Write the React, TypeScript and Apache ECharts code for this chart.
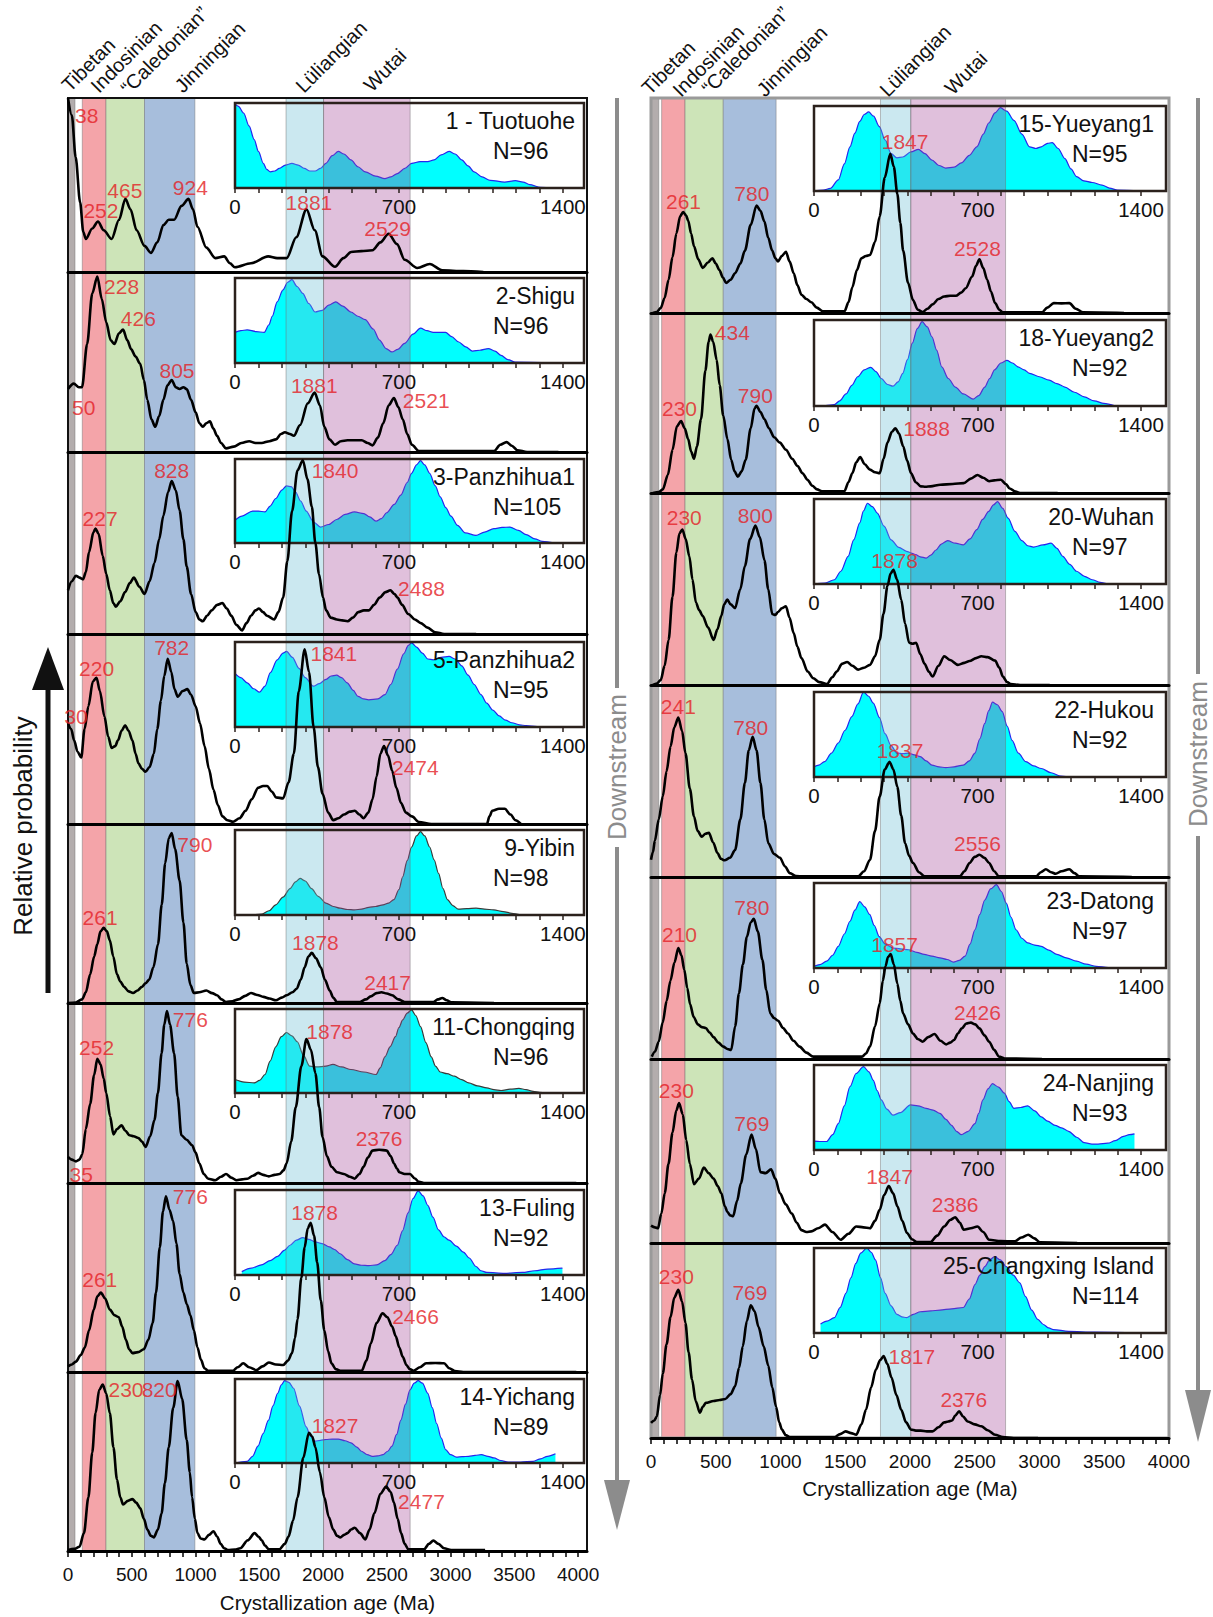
import React, { useEffect, useRef } from 'react';
import * as echarts from 'echarts';

// ---------------- tick labels ----------------
const MAIN_TICK_LABELS = [0, 500, 1000, 1500, 2000, 2500, 3000, 3500, 4000];
const MAIN_MINOR_TICKS = Array.from({ length: 41 }, (_, i) => i * 100);
const INSET_TICK_LABELS = [0, 700, 1400];
const INSET_MINOR_TICKS = Array.from({ length: 15 }, (_, i) => i * 100);
const HEADER_NAMES = ['Tibetan', 'Indosinian', '\u201CCaledonian\u201D', 'Jinningian', 'L\u00FCliangian', 'Wutai'];

// bands [startMa, endMa, kind]  kind: 0 gray,1 red,2 green,3 blue,4 lightblue,5 purple
const LEFT_BANDS = [[0, 55, 0], [112, 298, 1], [298, 600, 2], [600, 995, 3], [1710, 2004, 4], [2004, 2683, 5]];
const RIGHT_BANDS = [[0, 60, 0], [82, 263, 1], [263, 558, 2], [558, 966, 3], [1772, 2006, 4], [2006, 2738, 5]];

// ---------------- left column data ----------------
const P1_MAIN = [[0,1.0],[30,0.9],[60,0.66],[95,0.4],[120,0.23],[140,0.19],[190,0.25],[235,0.29],[280,0.24],[342,0.19],[400,0.3],[450,0.42],[490,0.36],[538,0.24],[600,0.15],[650,0.11],[700,0.17],[748,0.27],[790,0.3],[832,0.3],[890,0.38],[945,0.42],[980,0.36],[1015,0.26],[1085,0.14],[1155,0.08],[1225,0.09],[1270,0.05],[1309,0.027],[1435,0.05],[1570,0.09],[1640,0.08],[1715,0.08],[1790,0.2],[1870,0.36],[1935,0.24],[1996,0.09],[2094,0.03],[2160,0.08],[2220,0.115],[2300,0.12],[2388,0.125],[2450,0.17],[2514,0.22],[2580,0.16],[2640,0.07],[2739,0.023],[2837,0.046],[2935,0.01],[3100,0.005],[3257,0]];
const P1_INSET = [[0,0.99],[15,0.96],[37,0.88],[60,0.73],[82,0.57],[100,0.43],[121,0.29],[135,0.22],[151,0.19],[170,0.2],[189,0.23],[215,0.27],[243,0.29],[270,0.27],[296,0.23],[320,0.2],[342,0.2],[365,0.23],[388,0.29],[415,0.38],[441,0.43],[465,0.4],[495,0.33],[525,0.25],[556,0.19],[600,0.14],[640,0.11],[665,0.13],[693,0.17],[725,0.23],[754,0.29],[790,0.31],[823,0.31],[850,0.33],[880,0.39],[914,0.43],[940,0.4],[968,0.33],[995,0.26],[1021,0.19],[1055,0.13],[1090,0.09],[1151,0.07],[1197,0.087],[1230,0.07],[1258,0.04],[1304,0.008],[1365,0]];
const P1_PEAKS = [[146,0.9,'38'],[258,0.353,'252'],[446,0.47,'465'],[959,0.487,'924'],[1889,0.4,'1881'],[2506,0.25,'2529']];

const P2_MAIN = [[0,0.35],[45,0.38],[85,0.36],[110,0.36],[150,0.6],[190,0.88],[230,0.975],[265,0.85],[300,0.72],[335,0.62],[364,0.6],[400,0.66],[432,0.68],[465,0.62],[496,0.57],[530,0.53],[566,0.49],[595,0.4],[622,0.29],[655,0.18],[684,0.14],[715,0.2],[748,0.29],[780,0.37],[813,0.4],[845,0.36],[875,0.35],[905,0.36],[931,0.35],[965,0.29],[1001,0.22],[1030,0.16],[1057,0.14],[1085,0.16],[1113,0.17],[1140,0.13],[1169,0.09],[1200,0.05],[1239,0.02],[1300,0.03],[1360,0.05],[1421,0.06],[1470,0.05],[1519,0.05],[1580,0.06],[1631,0.07],[1670,0.1],[1701,0.11],[1740,0.1],[1771,0.09],[1820,0.15],[1880,0.27],[1934,0.33],[1975,0.26],[2010,0.14],[2050,0.07],[2094,0.04],[2140,0.06],[2192,0.065],[2250,0.065],[2304,0.065],[2350,0.05],[2388,0.037],[2430,0.08],[2472,0.16],[2515,0.26],[2556,0.3],[2590,0.25],[2626,0.18],[2660,0.1],[2697,0.04],[2752,0.005],[3341,0.005],[3390,0.04],[3439,0.055],[3480,0.035],[3523,0.01],[3600,0],[3846,0]];
const P2_INSET = [[0,0.36],[25,0.38],[52,0.39],[90,0.37],[125,0.36],[145,0.45],[159,0.55],[180,0.72],[205,0.86],[225,0.95],[243,0.98],[265,0.9],[289,0.82],[315,0.7],[342,0.6],[373,0.62],[400,0.68],[430,0.72],[460,0.67],[495,0.6],[525,0.55],[556,0.51],[590,0.4],[617,0.27],[645,0.17],[670,0.13],[695,0.16],[724,0.23],[760,0.34],[792,0.41],[820,0.38],[846,0.36],[899,0.36],[925,0.31],[953,0.25],[985,0.19],[1014,0.14],[1045,0.15],[1082,0.17],[1110,0.14],[1136,0.09],[1165,0.04],[1197,0.01],[1365,0]];
const P2_PEAKS = [[420,0.92,'228'],[552,0.74,'426'],[855,0.454,'805'],[123,0.25,'50'],[1931,0.37,'1881'],[2809,0.287,'2521']];

const P3_MAIN = [[0,0.24],[30,0.29],[62,0.32],[90,0.31],[118,0.3],[140,0.34],[165,0.45],[200,0.56],[216,0.58],[240,0.55],[272,0.43],[300,0.33],[328,0.24],[355,0.17],[376,0.15],[410,0.18],[448,0.23],[485,0.28],[516,0.31],[560,0.26],[600,0.22],[640,0.29],[678,0.39],[715,0.52],[748,0.65],[785,0.78],[813,0.84],[845,0.79],[875,0.68],[905,0.52],[931,0.37],[965,0.22],[1001,0.12],[1030,0.08],[1057,0.07],[1090,0.1],[1127,0.13],[1170,0.16],[1211,0.17],[1245,0.14],[1281,0.1],[1320,0.05],[1365,0.02],[1400,0.06],[1435,0.1],[1470,0.13],[1497,0.14],[1530,0.12],[1561,0.1],[1617,0.08],[1650,0.12],[1687,0.2],[1720,0.4],[1757,0.675],[1800,0.9],[1842,0.955],[1878,0.85],[1912,0.7],[1940,0.5],[1968,0.33],[2000,0.2],[2024,0.13],[2060,0.09],[2108,0.08],[2150,0.075],[2192,0.07],[2235,0.09],[2276,0.12],[2320,0.13],[2360,0.13],[2400,0.16],[2444,0.2],[2490,0.23],[2528,0.24],[2560,0.22],[2584,0.2],[2620,0.16],[2668,0.11],[2720,0.08],[2767,0.06],[2820,0.035],[2879,0.01],[2950,0],[3201,0]];
const P3_INSET = [[0,0.27],[30,0.32],[75,0.38],[100,0.38],[128,0.37],[150,0.44],[174,0.53],[200,0.63],[220,0.68],[240,0.67],[258,0.61],[280,0.5],[304,0.38],[335,0.25],[365,0.19],[400,0.22],[434,0.28],[470,0.34],[510,0.37],[550,0.35],[575,0.31],[602,0.26],[625,0.29],[647,0.36],[680,0.46],[708,0.57],[735,0.72],[754,0.83],[775,0.93],[792,0.98],[810,0.93],[831,0.83],[855,0.68],[876,0.55],[900,0.42],[922,0.32],[950,0.21],[983,0.12],[1029,0.09],[1065,0.13],[1105,0.17],[1140,0.185],[1174,0.19],[1210,0.15],[1243,0.1],[1280,0.05],[1311,0.02],[1365,0]];
const P3_PEAKS = [[813,0.9,'828'],[252,0.634,'227'],[2094,0.9,'1840'],[2772,0.248,'2488']];

const P5_MAIN = [[0,0.53],[25,0.5],[48,0.44],[75,0.38],[104,0.35],[130,0.5],[160,0.62],[195,0.75],[224,0.77],[250,0.7],[286,0.565],[315,0.46],[342,0.4],[370,0.41],[392,0.44],[420,0.49],[448,0.52],[475,0.49],[505,0.44],[530,0.37],[552,0.32],[580,0.29],[608,0.275],[640,0.3],[673,0.37],[700,0.5],[729,0.65],[755,0.78],[782,0.87],[810,0.8],[835,0.71],[860,0.67],[900,0.7],[936,0.71],[965,0.68],[1001,0.62],[1035,0.53],[1071,0.41],[1105,0.29],[1141,0.18],[1175,0.1],[1211,0.04],[1250,0.02],[1295,0.012],[1345,0.03],[1393,0.07],[1440,0.13],[1491,0.19],[1530,0.2],[1561,0.2],[1600,0.17],[1631,0.14],[1687,0.135],[1730,0.22],[1771,0.37],[1810,0.7],[1856,0.92],[1890,0.8],[1926,0.51],[1960,0.3],[1996,0.16],[2040,0.06],[2080,0.02],[2120,0.03],[2164,0.05],[2210,0.065],[2248,0.07],[2285,0.05],[2318,0.03],[2355,0.06],[2388,0.13],[2420,0.25],[2450,0.37],[2478,0.41],[2510,0.36],[2542,0.28],[2575,0.19],[2612,0.11],[2650,0.06],[2697,0.04],[2752,0.01],[2850,0],[3285,0],[3305,0.04],[3327,0.07],[3380,0.08],[3425,0.08],[3470,0.05],[3509,0.02],[3551,0]];
const P5_INSET = [[0,0.63],[25,0.58],[52,0.52],[80,0.45],[105,0.41],[128,0.48],[151,0.64],[180,0.79],[205,0.87],[220,0.89],[245,0.82],[273,0.69],[300,0.58],[334,0.48],[360,0.51],[388,0.56],[410,0.6],[434,0.61],[455,0.58],[479,0.52],[505,0.43],[525,0.36],[550,0.33],[571,0.32],[610,0.33],[640,0.38],[665,0.5],[693,0.68],[720,0.86],[740,0.96],[754,0.99],[775,0.94],[800,0.87],[823,0.8],[846,0.79],[880,0.82],[914,0.83],[940,0.8],[968,0.72],[995,0.61],[1021,0.5],[1050,0.38],[1075,0.28],[1100,0.2],[1128,0.13],[1155,0.08],[1182,0.05],[1215,0.025],[1243,0.016],[1290,0.005],[1365,0]];
const P5_PEAKS = [[813,0.93,'782'],[224,0.82,'220'],[62,0.568,'30'],[2085,0.895,'1841'],[2724,0.295,'2474']];

const P9_MAIN = [[0,0],[60,0.003],[110,0.02],[140,0.06],[174,0.16],[205,0.26],[230,0.33],[255,0.4],[280,0.42],[305,0.4],[328,0.35],[355,0.26],[384,0.16],[410,0.12],[440,0.09],[475,0.065],[510,0.056],[545,0.07],[580,0.09],[608,0.11],[636,0.13],[670,0.2],[706,0.33],[735,0.55],[762,0.78],[790,0.92],[813,0.95],[840,0.86],[875,0.685],[905,0.45],[931,0.22],[960,0.1],[987,0.056],[1030,0.06],[1085,0.07],[1130,0.055],[1169,0.043],[1205,0.02],[1239,0.006],[1290,0.01],[1337,0.02],[1390,0.04],[1435,0.056],[1485,0.045],[1533,0.034],[1580,0.025],[1631,0.015],[1675,0.03],[1715,0.043],[1760,0.06],[1794,0.08],[1825,0.13],[1856,0.2],[1885,0.26],[1912,0.28],[1945,0.25],[1982,0.2],[2015,0.13],[2052,0.07],[2080,0.03],[2108,0.006],[2200,0.005],[2290,0.006],[2335,0.02],[2374,0.037],[2420,0.055],[2458,0.06],[2500,0.053],[2542,0.043],[2590,0.02],[2640,0.006],[2865,0.006],[2900,0.02],[2935,0.028],[2970,0.015],[3005,0.004],[3341,0]];
const P9_INSET = [[0,0],[60,0.002],[113,0.01],[145,0.05],[174,0.12],[205,0.21],[235,0.31],[258,0.39],[278,0.43],[300,0.4],[327,0.31],[355,0.22],[388,0.14],[420,0.1],[449,0.08],[480,0.065],[510,0.06],[540,0.07],[571,0.09],[600,0.1],[632,0.12],[655,0.14],[678,0.18],[700,0.3],[716,0.45],[735,0.64],[754,0.8],[775,0.93],[792,0.98],[810,0.93],[831,0.8],[850,0.65],[869,0.49],[888,0.31],[907,0.18],[930,0.11],[953,0.07],[990,0.075],[1029,0.08],[1065,0.07],[1105,0.06],[1145,0.04],[1182,0.02],[1215,0.005],[1243,0]];
const P9_PEAKS = [[995,0.886,'790'],[252,0.478,'261'],[1940,0.338,'1878'],[2506,0.114,'2417']];

const P11_MAIN = [[0,0.145],[30,0.13],[62,0.12],[90,0.13],[112,0.16],[140,0.3],[174,0.44],[205,0.6],[230,0.69],[255,0.66],[280,0.58],[300,0.5],[330,0.37],[356,0.27],[385,0.3],[420,0.32],[450,0.29],[482,0.265],[515,0.26],[552,0.25],[580,0.23],[608,0.2],[645,0.26],[678,0.35],[705,0.5],[734,0.72],[755,0.88],[776,0.955],[800,0.88],[832,0.72],[860,0.48],[889,0.265],[930,0.24],[973,0.21],[1000,0.17],[1029,0.11],[1065,0.05],[1099,0.024],[1155,0.015],[1200,0.035],[1239,0.05],[1280,0.03],[1323,0.015],[1365,0.02],[1407,0.024],[1450,0.04],[1491,0.056],[1530,0.045],[1575,0.037],[1620,0.045],[1659,0.05],[1690,0.07],[1715,0.11],[1750,0.23],[1786,0.42],[1830,0.65],[1870,0.8],[1905,0.74],[1940,0.61],[1970,0.42],[1996,0.255],[2030,0.15],[2066,0.09],[2110,0.06],[2164,0.05],[2210,0.035],[2248,0.024],[2285,0.05],[2318,0.09],[2350,0.14],[2388,0.18],[2440,0.185],[2500,0.18],[2530,0.15],[2556,0.11],[2580,0.08],[2598,0.06],[2640,0.05],[2682,0.05],[2720,0.025],[2752,0.006],[2800,0],[3986,0]];
const P11_INSET = [[0,0.16],[40,0.13],[82,0.12],[105,0.15],[128,0.22],[150,0.38],[174,0.55],[198,0.67],[220,0.72],[243,0.68],[266,0.61],[292,0.45],[319,0.32],[350,0.31],[388,0.32],[418,0.34],[455,0.31],[495,0.28],[550,0.25],[602,0.22],[620,0.3],[640,0.43],[662,0.55],[685,0.67],[700,0.78],[716,0.87],[735,0.95],[754,0.99],[772,0.92],[792,0.79],[815,0.6],[838,0.43],[856,0.32],[876,0.25],[905,0.23],[937,0.2],[968,0.16],[998,0.12],[1035,0.085],[1075,0.06],[1105,0.04],[1136,0.03],[1175,0.045],[1212,0.055],[1243,0.04],[1273,0.02],[1300,0.008],[1334,0]];
const P11_PEAKS = [[959,0.91,'776'],[224,0.755,'252'],[104,0.048,'35'],[2052,0.844,'1878'],[2439,0.246,'2376']];

const P13_MAIN = [[0,0.03],[30,0.04],[62,0.055],[100,0.09],[132,0.13],[165,0.22],[202,0.33],[230,0.4],[258,0.42],[290,0.39],[328,0.33],[365,0.3],[398,0.29],[425,0.24],[454,0.17],[480,0.12],[505,0.1],[550,0.105],[594,0.12],[630,0.17],[664,0.26],[690,0.42],[720,0.66],[745,0.85],[768,0.93],[795,0.86],[824,0.8],[850,0.68],[875,0.52],[905,0.42],[931,0.36],[960,0.3],[987,0.22],[1015,0.13],[1043,0.064],[1070,0.02],[1099,0.007],[1295,0.007],[1330,0.025],[1374,0.046],[1420,0.025],[1477,0.01],[1525,0.03],[1575,0.05],[1630,0.04],[1687,0.037],[1725,0.06],[1757,0.1],[1780,0.18],[1800,0.28],[1830,0.5],[1856,0.66],[1880,0.76],[1903,0.79],[1930,0.72],[1954,0.58],[1982,0.38],[2010,0.22],[2040,0.11],[2066,0.046],[2100,0.015],[2136,0.007],[2304,0.007],[2340,0.06],[2374,0.15],[2420,0.26],[2467,0.31],[2505,0.29],[2542,0.24],[2570,0.19],[2598,0.13],[2625,0.08],[2654,0.037],[2680,0.015],[2710,0.007],[2760,0.025],[2808,0.046],[2880,0.048],[2949,0.046],[2990,0.02],[3033,0.005],[3100,0],[3986,0]];
const P13_INSET = [[29,0.04],[70,0.08],[113,0.12],[150,0.17],[182,0.22],[210,0.29],[235,0.35],[262,0.41],[289,0.44],[315,0.42],[342,0.39],[372,0.37],[403,0.33],[425,0.3],[449,0.25],[480,0.18],[510,0.13],[540,0.115],[571,0.11],[605,0.12],[640,0.17],[665,0.24],[693,0.35],[715,0.52],[739,0.73],[760,0.9],[782,0.99],[803,0.93],[823,0.82],[845,0.68],[869,0.53],[892,0.45],[914,0.41],[945,0.34],[975,0.27],[1000,0.2],[1029,0.1],[1050,0.05],[1075,0.03],[1151,0.02],[1227,0.03],[1280,0.05],[1334,0.07],[1398,0.08]];
const P13_PEAKS = [[959,0.93,'776'],[249,0.49,'261'],[1934,0.845,'1878'],[2725,0.293,'2466']];

const P14_MAIN = [[0,0.006],[50,0.012],[90,0.024],[125,0.1],[160,0.3],[190,0.55],[216,0.77],[245,0.9],[272,0.93],[300,0.88],[328,0.77],[356,0.58],[384,0.4],[410,0.3],[432,0.26],[470,0.28],[505,0.29],[535,0.27],[566,0.24],[595,0.18],[622,0.12],[650,0.085],[673,0.076],[705,0.12],[734,0.21],[760,0.38],[790,0.58],[825,0.8],[860,0.95],[895,0.85],[931,0.62],[955,0.44],[973,0.3],[995,0.18],[1015,0.1],[1040,0.07],[1071,0.065],[1105,0.09],[1141,0.11],[1170,0.08],[1197,0.04],[1225,0.015],[1253,0.006],[1310,0.008],[1351,0.015],[1410,0.06],[1463,0.1],[1495,0.08],[1519,0.06],[1545,0.03],[1575,0.01],[1659,0.01],[1700,0.04],[1729,0.08],[1765,0.17],[1800,0.3],[1845,0.52],[1889,0.66],[1915,0.64],[1940,0.58],[1975,0.44],[2010,0.3],[2045,0.19],[2080,0.12],[2110,0.085],[2136,0.076],[2165,0.09],[2192,0.1],[2220,0.12],[2248,0.13],[2290,0.1],[2332,0.065],[2365,0.12],[2402,0.21],[2450,0.32],[2495,0.36],[2530,0.33],[2556,0.27],[2585,0.18],[2612,0.1],[2640,0.04],[2668,0.01],[2794,0.01],[2830,0.04],[2865,0.058],[2905,0.04],[2949,0.015],[3005,0.006],[3271,0.005]];
const P14_INSET = [[0,0],[52,0.02],[75,0.08],[98,0.2],[120,0.35],[143,0.51],[162,0.68],[182,0.83],[198,0.93],[212,0.98],[230,0.96],[250,0.89],[275,0.68],[304,0.43],[322,0.32],[342,0.26],[365,0.27],[388,0.28],[415,0.285],[441,0.285],[470,0.265],[495,0.24],[520,0.19],[540,0.14],[565,0.1],[586,0.08],[610,0.085],[632,0.1],[652,0.14],[670,0.2],[690,0.34],[708,0.51],[728,0.7],[747,0.87],[765,0.95],[782,0.98],[800,0.95],[823,0.83],[842,0.66],[861,0.47],[880,0.3],[899,0.16],[920,0.1],[945,0.07],[970,0.075],[998,0.08],[1025,0.09],[1052,0.1],[1080,0.08],[1105,0.06],[1135,0.03],[1166,0.01],[1220,0.012],[1273,0.02],[1305,0.05],[1334,0.08],[1368,0.11]];
const P14_PEAKS = [[455,0.9,'230'],[715,0.9,'820'],[2094,0.7,'1827'],[2772,0.276,'2477']];

// ---------------- right column data ----------------
const P15_MAIN = [[15,0],[45,0.005],[75,0.023],[105,0.07],[136,0.155],[166,0.26],[196,0.37],[225,0.45],[248,0.47],[270,0.455],[287,0.43],[310,0.37],[332,0.31],[365,0.25],[399,0.21],[440,0.235],[474,0.255],[500,0.23],[528,0.2],[555,0.165],[580,0.14],[615,0.155],[649,0.185],[690,0.23],[725,0.29],[770,0.41],[815,0.5],[845,0.475],[876,0.425],[905,0.35],[936,0.29],[960,0.255],[981,0.24],[1010,0.265],[1042,0.285],[1070,0.24],[1102,0.185],[1130,0.13],[1162,0.085],[1200,0.065],[1238,0.05],[1280,0.025],[1328,0.008],[1494,0.008],[1525,0.05],[1555,0.12],[1590,0.2],[1624,0.255],[1660,0.265],[1691,0.27],[1730,0.33],[1766,0.45],[1805,0.63],[1848,0.74],[1875,0.68],[1902,0.555],[1925,0.42],[1947,0.29],[1985,0.14],[2023,0.06],[2060,0.015],[2098,0.005],[2135,0.02],[2174,0.04],[2220,0.065],[2264,0.077],[2310,0.08],[2355,0.08],[2395,0.095],[2430,0.115],[2480,0.17],[2510,0.22],[2536,0.25],[2565,0.21],[2596,0.155],[2625,0.1],[2657,0.046],[2690,0.015],[2717,0.003],[3019,0.003],[3060,0.025],[3110,0.046],[3170,0.045],[3230,0.046],[3280,0.02],[3336,0.003],[3653,0]];
const P15_INSET = [[0,0],[40,0.01],[70,0.03],[104,0.13],[130,0.32],[154,0.52],[175,0.68],[196,0.82],[215,0.9],[234,0.93],[255,0.88],[279,0.76],[305,0.6],[330,0.44],[355,0.39],[380,0.4],[415,0.46],[447,0.49],[475,0.44],[505,0.365],[535,0.3],[564,0.27],[600,0.28],[631,0.33],[665,0.42],[697,0.52],[725,0.67],[748,0.8],[775,0.92],[798,0.98],[825,0.94],[856,0.83],[890,0.67],[923,0.52],[950,0.5],[973,0.52],[1000,0.56],[1020,0.57],[1045,0.5],[1074,0.38],[1100,0.26],[1124,0.17],[1155,0.12],[1191,0.1],[1233,0.07],[1265,0.035],[1300,0.01],[1400,0]];
const P15_PEAKS = [[251,0.52,'261'],[779,0.556,'780'],[1962,0.8,'1847'],[2521,0.3,'2528']];

const P18_MAIN = [[15,0],[60,0.005],[91,0.02],[130,0.1],[166,0.24],[200,0.37],[232,0.4],[260,0.36],[287,0.3],[310,0.23],[332,0.19],[355,0.26],[386,0.41],[420,0.68],[445,0.84],[459,0.88],[480,0.84],[507,0.74],[530,0.6],[558,0.43],[590,0.3],[619,0.185],[645,0.12],[670,0.09],[700,0.12],[731,0.185],[770,0.36],[800,0.47],[815,0.485],[845,0.45],[876,0.41],[910,0.36],[951,0.31],[995,0.28],[1042,0.24],[1090,0.19],[1132,0.15],[1170,0.11],[1208,0.074],[1245,0.04],[1283,0.02],[1320,0.01],[1494,0.01],[1525,0.06],[1555,0.11],[1585,0.17],[1615,0.2],[1650,0.16],[1691,0.13],[1730,0.115],[1766,0.11],[1796,0.19],[1826,0.28],[1860,0.34],[1887,0.36],[1915,0.33],[1947,0.26],[1978,0.18],[2008,0.11],[2045,0.06],[2083,0.037],[2120,0.035],[2159,0.037],[2234,0.046],[2330,0.05],[2415,0.055],[2470,0.08],[2521,0.1],[2565,0.085],[2611,0.065],[2650,0.07],[2702,0.074],[2740,0.05],[2770,0.025],[2808,0.01],[2850,0],[3140,0]];
const P18_INSET = [[0,0],[50,0.005],[87,0.015],[110,0.06],[137,0.14],[162,0.24],[187,0.34],[215,0.42],[243,0.45],[265,0.4],[288,0.32],[315,0.25],[338,0.23],[360,0.28],[380,0.38],[400,0.54],[421,0.73],[442,0.9],[463,0.98],[485,0.92],[505,0.805],[525,0.65],[547,0.455],[575,0.32],[605,0.22],[640,0.14],[681,0.08],[705,0.12],[731,0.22],[752,0.32],[773,0.42],[800,0.5],[826,0.53],[850,0.5],[873,0.455],[900,0.42],[923,0.38],[965,0.34],[1007,0.3],[1040,0.26],[1074,0.22],[1115,0.16],[1157,0.105],[1200,0.06],[1241,0.03],[1291,0]];
const P18_PEAKS = [[628,0.89,'434'],[220,0.47,'230'],[806,0.54,'790'],[2128,0.357,'1888']];

const P20_MAIN = [[15,0],[45,0.008],[75,0.026],[105,0.1],[136,0.235],[166,0.46],[196,0.69],[220,0.79],[242,0.81],[268,0.76],[296,0.67],[320,0.55],[347,0.43],[372,0.39],[399,0.36],[440,0.3],[483,0.235],[513,0.29],[543,0.36],[565,0.42],[589,0.445],[615,0.42],[649,0.4],[690,0.5],[725,0.62],[765,0.76],[806,0.83],[840,0.77],[876,0.65],[905,0.5],[936,0.37],[960,0.365],[981,0.38],[1010,0.4],[1042,0.41],[1070,0.35],[1102,0.27],[1130,0.2],[1162,0.14],[1210,0.07],[1253,0.035],[1300,0.015],[1359,0.005],[1400,0.04],[1434,0.07],[1475,0.11],[1515,0.12],[1555,0.1],[1600,0.08],[1645,0.09],[1691,0.105],[1730,0.15],[1766,0.235],[1795,0.37],[1826,0.515],[1850,0.58],[1872,0.6],[1900,0.55],[1932,0.445],[1962,0.32],[1993,0.22],[2020,0.215],[2047,0.22],[2080,0.16],[2113,0.11],[2145,0.07],[2174,0.044],[2220,0.1],[2264,0.15],[2310,0.13],[2370,0.105],[2420,0.115],[2460,0.125],[2510,0.14],[2551,0.15],[2600,0.145],[2657,0.127],[2690,0.09],[2717,0.044],[2750,0.015],[2777,0.005],[2850,0],[3079,0]];
const P20_INSET = [[0,0],[45,0.01],[87,0.05],[115,0.15],[146,0.325],[170,0.52],[196,0.72],[212,0.86],[229,0.95],[250,0.91],[271,0.835],[300,0.68],[330,0.52],[363,0.43],[396,0.385],[420,0.36],[435,0.345],[455,0.32],[480,0.305],[500,0.34],[522,0.4],[545,0.47],[572,0.51],[605,0.48],[639,0.46],[668,0.53],[697,0.64],[722,0.76],[748,0.855],[768,0.93],[786,0.97],[808,0.89],[831,0.775],[860,0.62],[890,0.51],[915,0.45],[940,0.435],[980,0.46],[1015,0.48],[1040,0.42],[1065,0.325],[1095,0.23],[1124,0.15],[1158,0.09],[1191,0.05],[1225,0.02],[1258,0.004],[1367,0]];
const P20_PEAKS = [[257,0.87,'230'],[806,0.885,'800'],[1881,0.646,'1878']];

const P22_MAIN = [[0,0.09],[15,0.13],[30,0.19],[60,0.3],[91,0.42],[120,0.55],[151,0.68],[180,0.78],[211,0.83],[240,0.76],[266,0.645],[300,0.46],[332,0.315],[360,0.24],[392,0.21],[420,0.225],[447,0.23],[480,0.18],[513,0.125],[540,0.095],[568,0.087],[610,0.1],[649,0.14],[690,0.3],[725,0.49],[755,0.66],[785,0.73],[815,0.66],[845,0.49],[875,0.3],[906,0.176],[950,0.12],[996,0.1],[1035,0.055],[1072,0.02],[1120,0.005],[1177,0.003],[1600,0.003],[1645,0.03],[1691,0.09],[1730,0.24],[1766,0.42],[1805,0.56],[1842,0.6],[1872,0.56],[1902,0.47],[1932,0.32],[1962,0.176],[1993,0.11],[2023,0.073],[2070,0.025],[2113,0.003],[2385,0.003],[2420,0.03],[2460,0.073],[2500,0.105],[2536,0.116],[2575,0.1],[2611,0.073],[2650,0.03],[2687,0.003],[2974,0.003],[3010,0.025],[3049,0.04],[3090,0.025],[3125,0.017],[3170,0.03],[3230,0.04],[3270,0.02],[3306,0.003],[3713,0]];
const P22_INSET = [[0,0.12],[20,0.14],[45,0.18],[75,0.28],[104,0.4],[133,0.55],[162,0.71],[188,0.86],[212,1.0],[234,0.95],[254,0.87],[280,0.7],[304,0.51],[330,0.37],[355,0.28],[380,0.275],[405,0.28],[430,0.26],[455,0.24],[480,0.19],[505,0.14],[535,0.12],[564,0.11],[600,0.12],[639,0.14],[665,0.19],[689,0.28],[710,0.45],[731,0.63],[748,0.78],[764,0.88],[785,0.85],[806,0.77],[827,0.6],[848,0.43],[875,0.28],[907,0.18],[940,0.13],[973,0.1],[1015,0.05],[1057,0.01],[1100,0],[1375,0]];
const P22_PEAKS = [[211,0.887,'241'],[770,0.78,'780'],[1923,0.66,'1837'],[2521,0.173,'2556']];

const P23_MAIN = [[6,0.013],[30,0.04],[60,0.095],[90,0.2],[121,0.32],[150,0.43],[181,0.53],[211,0.61],[235,0.57],[257,0.49],[280,0.39],[302,0.3],[330,0.23],[362,0.19],[392,0.175],[423,0.17],[453,0.145],[483,0.12],[520,0.09],[558,0.068],[590,0.055],[619,0.05],[650,0.18],[679,0.36],[710,0.52],[740,0.67],[770,0.75],[794,0.77],[825,0.7],[860,0.545],[890,0.38],[921,0.25],[950,0.225],[981,0.21],[1020,0.17],[1057,0.14],[1100,0.1],[1147,0.068],[1200,0.035],[1253,0.013],[1630,0.013],[1660,0.03],[1691,0.068],[1730,0.18],[1766,0.305],[1790,0.43],[1811,0.51],[1830,0.56],[1851,0.576],[1875,0.52],[1902,0.415],[1925,0.32],[1947,0.25],[1985,0.19],[2023,0.14],[2060,0.11],[2098,0.095],[2140,0.12],[2189,0.137],[2235,0.1],[2279,0.08],[2310,0.09],[2340,0.104],[2370,0.14],[2400,0.168],[2435,0.195],[2470,0.2],[2505,0.19],[2536,0.168],[2575,0.13],[2611,0.095],[2650,0.05],[2687,0.013],[2730,0.003],[3019,0]];
const P23_INSET = [[0,0.02],[25,0.04],[54,0.08],[80,0.15],[104,0.255],[130,0.4],[154,0.55],[175,0.68],[196,0.78],[217,0.72],[238,0.63],[258,0.5],[279,0.37],[305,0.28],[338,0.235],[370,0.225],[405,0.215],[440,0.185],[472,0.16],[505,0.14],[539,0.12],[570,0.1],[597,0.07],[622,0.09],[647,0.14],[668,0.28],[689,0.45],[710,0.63],[731,0.8],[756,0.93],[781,0.98],[802,0.9],[823,0.765],[843,0.6],[865,0.45],[890,0.35],[915,0.295],[945,0.27],[973,0.255],[1005,0.21],[1040,0.16],[1080,0.12],[1124,0.08],[1165,0.045],[1208,0.02],[1260,0.005],[1367,0]];
const P23_PEAKS = [[220,0.686,'210'],[779,0.83,'780'],[1881,0.63,'1857'],[2521,0.255,'2426']];

const P24_MAIN = [[0,0.094],[30,0.085],[54,0.08],[80,0.16],[106,0.27],[135,0.43],[166,0.6],[195,0.72],[217,0.76],[245,0.7],[272,0.56],[300,0.43],[332,0.32],[370,0.35],[408,0.41],[445,0.38],[483,0.35],[515,0.31],[543,0.27],[570,0.2],[589,0.17],[612,0.15],[634,0.145],[665,0.23],[694,0.325],[735,0.48],[776,0.59],[810,0.51],[845,0.385],[885,0.38],[927,0.4],[960,0.35],[996,0.27],[1040,0.21],[1087,0.16],[1125,0.11],[1162,0.07],[1200,0.06],[1238,0.063],[1290,0.08],[1343,0.1],[1400,0.06],[1464,0.018],[1525,0.05],[1585,0.09],[1640,0.085],[1691,0.08],[1730,0.12],[1766,0.18],[1800,0.26],[1836,0.31],[1870,0.27],[1902,0.2],[1940,0.12],[1977,0.054],[2015,0.02],[2053,0.005],[2159,0.005],[2210,0.04],[2264,0.09],[2310,0.125],[2349,0.14],[2385,0.11],[2415,0.072],[2470,0.08],[2521,0.09],[2565,0.06],[2611,0.018],[2700,0.01],[2808,0.009],[2860,0.03],[2913,0.045],[2960,0.025],[3004,0.004],[3291,0]];
const P24_INSET = [[0,0.105],[25,0.1],[54,0.1],[80,0.18],[104,0.31],[130,0.52],[154,0.745],[180,0.9],[212,0.98],[235,0.92],[254,0.82],[270,0.7],[288,0.59],[312,0.48],[338,0.41],[370,0.44],[413,0.53],[445,0.52],[480,0.49],[510,0.47],[539,0.43],[565,0.36],[589,0.29],[610,0.22],[631,0.18],[660,0.22],[689,0.31],[705,0.43],[723,0.59],[745,0.72],[764,0.78],[790,0.74],[815,0.67],[835,0.57],[856,0.49],[885,0.5],[915,0.52],[945,0.46],[973,0.39],[1000,0.34],[1032,0.29],[1060,0.26],[1090,0.22],[1125,0.15],[1157,0.086],[1190,0.07],[1216,0.07],[1258,0.08],[1290,0.11],[1325,0.16],[1350,0.18],[1372,0.19]];
const P24_PEAKS = [[196,0.83,'230'],[779,0.65,'769'],[1842,0.36,'1847'],[2349,0.208,'2386']];

const P25_MAIN = [[0,0.077],[25,0.09],[45,0.11],[70,0.22],[91,0.33],[120,0.48],[151,0.62],[180,0.72],[211,0.76],[240,0.7],[266,0.59],[290,0.44],[317,0.3],[345,0.19],[377,0.13],[400,0.16],[423,0.18],[483,0.19],[530,0.195],[574,0.2],[615,0.225],[649,0.265],[680,0.36],[709,0.47],[740,0.6],[770,0.68],[800,0.65],[830,0.57],[870,0.47],[906,0.37],[936,0.26],[966,0.16],[990,0.08],[1011,0.043],[1040,0.015],[1072,0.005],[1419,0.005],[1460,0.02],[1503,0.034],[1545,0.025],[1585,0.017],[1625,0.07],[1660,0.145],[1700,0.26],[1736,0.35],[1770,0.4],[1796,0.42],[1825,0.38],[1857,0.31],[1895,0.22],[1932,0.145],[1970,0.08],[2008,0.043],[2045,0.038],[2083,0.038],[2130,0.034],[2174,0.034],[2220,0.055],[2264,0.08],[2295,0.085],[2325,0.09],[2350,0.115],[2379,0.137],[2410,0.11],[2445,0.085],[2500,0.07],[2551,0.06],[2600,0.04],[2657,0.017],[2717,0.005],[2800,0],[2989,0]];
const P25_INSET = [[28,0.105],[55,0.14],[87,0.18],[112,0.3],[137,0.47],[158,0.65],[179,0.82],[200,0.94],[226,1.0],[245,0.95],[263,0.86],[285,0.65],[304,0.47],[330,0.32],[355,0.22],[376,0.19],[396,0.18],[425,0.22],[455,0.25],[500,0.26],[539,0.27],[590,0.285],[639,0.3],[665,0.4],[689,0.57],[710,0.68],[731,0.78],[752,0.86],[773,0.9],[798,0.86],[823,0.78],[853,0.68],[881,0.59],[905,0.43],[932,0.27],[958,0.16],[982,0.1],[1005,0.06],[1024,0.04],[1090,0.02],[1200,0.01],[1400,0]];
const P25_PEAKS = [[196,0.83,'230'],[764,0.747,'769'],[2014,0.42,'1817'],[2415,0.197,'2376']];

const BLUE_EDGE = '#2626ee';
const DARK_EDGE = '#3a3a3a';

const LEFT_PANELS = [
  { title: '1 - Tuotuohe', n: 'N=96', main: P1_MAIN, inset: P1_INSET, peaks: P1_PEAKS, edge: BLUE_EDGE },
  { title: '2-Shigu', n: 'N=96', main: P2_MAIN, inset: P2_INSET, peaks: P2_PEAKS, edge: BLUE_EDGE },
  { title: '3-Panzhihua1', n: 'N=105', main: P3_MAIN, inset: P3_INSET, peaks: P3_PEAKS, edge: BLUE_EDGE },
  { title: '5-Panzhihua2', n: 'N=95', main: P5_MAIN, inset: P5_INSET, peaks: P5_PEAKS, edge: BLUE_EDGE },
  { title: '9-Yibin', n: 'N=98', main: P9_MAIN, inset: P9_INSET, peaks: P9_PEAKS, edge: DARK_EDGE },
  { title: '11-Chongqing', n: 'N=96', main: P11_MAIN, inset: P11_INSET, peaks: P11_PEAKS, edge: DARK_EDGE },
  { title: '13-Fuling', n: 'N=92', main: P13_MAIN, inset: P13_INSET, peaks: P13_PEAKS, edge: BLUE_EDGE },
  { title: '14-Yichang', n: 'N=89', main: P14_MAIN, inset: P14_INSET, peaks: P14_PEAKS, edge: BLUE_EDGE },
];
const RIGHT_PANELS = [
  { title: '15-Yueyang1', n: 'N=95', main: P15_MAIN, inset: P15_INSET, peaks: P15_PEAKS, edge: BLUE_EDGE },
  { title: '18-Yueyang2', n: 'N=92', main: P18_MAIN, inset: P18_INSET, peaks: P18_PEAKS, edge: BLUE_EDGE },
  { title: '20-Wuhan', n: 'N=97', main: P20_MAIN, inset: P20_INSET, peaks: P20_PEAKS, edge: BLUE_EDGE },
  { title: '22-Hukou', n: 'N=92', main: P22_MAIN, inset: P22_INSET, peaks: P22_PEAKS, edge: BLUE_EDGE },
  { title: '23-Datong', n: 'N=97', main: P23_MAIN, inset: P23_INSET, peaks: P23_PEAKS, edge: BLUE_EDGE },
  { title: '24-Nanjing', n: 'N=93', main: P24_MAIN, inset: P24_INSET, peaks: P24_PEAKS, edge: BLUE_EDGE },
  { title: '25-Changxing Island', n: 'N=114', main: P25_MAIN, inset: P25_INSET, peaks: P25_PEAKS, edge: BLUE_EDGE },
];

// ---------------- layout (pixels) ----------------
const LEFT_LAYOUT = {
  x0: 68, width: 519, xMax: 4070,
  insetLeft: 235, insetWidth: 349, insetMax: 1490,
  titleRight: 575, nLeft: 493,
  rows: [98, 272, 452, 634, 824, 1003, 1183, 1372, 1551],
  insets: [[103, 188], [278, 363], [459, 543], [642, 727], [830, 915], [1009, 1093], [1190, 1275], [1379, 1463]],
  bands: LEFT_BANDS, frameColor: '#111', frameWidth: 2, nameGap: 42,
  headers: [[72, 95], [101, 96], [131, 98], [185, 96], [306, 96], [374, 95]],
};
const RIGHT_LAYOUT = {
  x0: 651, width: 518, xMax: 4000,
  insetLeft: 814, insetWidth: 352, insetMax: 1507,
  titleRight: 1154, nLeft: 1072,
  rows: [98, 313, 493, 685, 877, 1059, 1243, 1438],
  insets: [[106, 191], [320, 406], [499, 584], [692, 777], [883, 968], [1065, 1150], [1248, 1333]],
  bands: RIGHT_BANDS, frameColor: '#9a9a9a', frameWidth: 3, nameGap: 41,
  headers: [[652, 98], [683, 100], [712, 98], [767, 100], [890, 100], [955, 98]],
};

const FONT = '"Liberation Sans", Arial, Helvetica, sans-serif';
const RED = '#e41e26';
const UNDER_COLORS = ['#b3adad', '#f4a4a9', '#cde4b8', '#a7bedc'];
const OVER_COLORS = ['rgba(106,189,212,0.35)', 'rgba(166,75,155,0.35)'];

function buildColumn(panels: any[], L: any, opt: any) {
  const bandGi = opt.grid.length;
  const top = L.rows[0];
  const bottom = L.rows[L.rows.length - 1];
  opt.grid.push({ left: L.x0, width: L.width, top, height: bottom - top, show: true, borderColor: L.frameColor, borderWidth: L.frameWidth, backgroundColor: 'transparent', z: 4 });
  opt.xAxis.push({ gridIndex: bandGi, type: 'value', min: 0, max: L.xMax, show: false });
  opt.yAxis.push({ gridIndex: bandGi, type: 'value', min: 0, max: 1, show: false });

  const bandRender = (palette: string[], offset: number) => (params: any, api: any) => {
    const s = api.coord([api.value(0), 1]);
    const e = api.coord([api.value(1), 0]);
    return {
      type: 'rect',
      shape: { x: s[0], y: s[1], width: e[0] - s[0], height: e[1] - s[1] },
      style: { fill: palette[api.value(2) - offset], stroke: 'rgba(110,110,110,0.45)', lineWidth: 1 },
    };
  };
  opt.series.push({ type: 'custom', xAxisIndex: bandGi, yAxisIndex: bandGi, z: 1, silent: true, encode: { x: [0, 1] },
    data: L.bands.filter((b: number[]) => b[2] < 4), renderItem: bandRender(UNDER_COLORS, 0) });
  opt.series.push({ type: 'custom', xAxisIndex: bandGi, yAxisIndex: bandGi, z: 3, silent: true, encode: { x: [0, 1] },
    data: L.bands.filter((b: number[]) => b[2] >= 4), renderItem: bandRender(OVER_COLORS, 4) });

  panels.forEach((p, i) => {
    const isLast = i === panels.length - 1;
    const gi = opt.grid.length;
    opt.grid.push({ left: L.x0, width: L.width, top: L.rows[i], height: L.rows[i + 1] - L.rows[i] });
    opt.xAxis.push({
      gridIndex: gi, type: 'value', min: 0, max: L.xMax, interval: 100, z: 5,
      axisLine: { show: true, onZero: false, lineStyle: { color: '#000', width: 3 } },
      axisTick: isLast ? { show: true, length: 6, customValues: MAIN_MINOR_TICKS, lineStyle: { color: '#000', width: 1.5 } } : { show: false },
      axisLabel: isLast ? { show: true, customValues: MAIN_TICK_LABELS, fontSize: 19, color: '#111', margin: 14, fontFamily: FONT,
        formatter: (v: number) => (v % 500 === 0 && v <= 4000 ? String(v) : '') } : { show: false },
      splitLine: { show: false },
      name: isLast ? 'Crystallization age (Ma)' : '', nameLocation: 'middle', nameGap: L.nameGap - 1,
      nameTextStyle: { fontSize: 20.5, color: '#111', fontFamily: FONT },
    });
    opt.yAxis.push({ gridIndex: gi, type: 'value', min: 0, max: 1, show: false });

    const ii = opt.grid.length;
    const ins = L.insets[i];
    opt.grid.push({ left: L.insetLeft, width: L.insetWidth, top: ins[0], height: ins[1] - ins[0], show: true, borderColor: '#2b211c', borderWidth: 2.5, backgroundColor: 'transparent', z: 4 });
    opt.xAxis.push({
      gridIndex: ii, type: 'value', min: 0, max: L.insetMax, interval: 100, z: 5,
      axisLine: { show: false },
      axisTick: { show: true, length: 5, customValues: INSET_MINOR_TICKS, lineStyle: { color: '#2b211c', width: 1.5 } },
      axisLabel: { show: true, customValues: INSET_TICK_LABELS, fontSize: 20.5, color: '#111', margin: 8, fontFamily: FONT,
        formatter: (v: number) => (v % 700 === 0 && v <= 1400 ? String(v) : '') },
      splitLine: { show: false },
    });
    opt.yAxis.push({ gridIndex: ii, type: 'value', min: 0, max: 1, show: false });

    opt.series.push({ type: 'line', xAxisIndex: ii, yAxisIndex: ii, data: p.inset, symbol: 'none', smooth: 0.3, smoothMonotone: 'x',
      lineStyle: { color: p.edge, width: 1.2 }, areaStyle: { color: '#00ffff', opacity: 1 }, z: 2, silent: true });
    opt.series.push({ type: 'line', xAxisIndex: gi, yAxisIndex: gi, data: p.main, symbol: 'none', smooth: 0.3, smoothMonotone: 'x',
      lineStyle: { color: '#000', width: 2.6 }, z: 5, silent: true });
    opt.series.push({ type: 'scatter', xAxisIndex: gi, yAxisIndex: gi, symbolSize: 1, silent: true, z: 6,
      itemStyle: { color: 'rgba(0,0,0,0)' },
      data: p.peaks.map((k: any[]) => ({ name: k[2], value: [k[0], k[1]] })),
      label: { show: true, position: 'inside', formatter: '{b}', color: RED, fontSize: 21, fontFamily: FONT } });

    opt.graphic.push({ type: 'text', x: L.titleRight, y: ins[0] + 18, z: 10, silent: true,
      style: { text: p.title, fontSize: 23, fontFamily: FONT, fill: '#111', align: 'right', verticalAlign: 'middle', textAlign: 'right', textVerticalAlign: 'middle' } });
    opt.graphic.push({ type: 'text', x: L.nLeft, y: ins[0] + 48, z: 10, silent: true,
      style: { text: p.n, fontSize: 23, fontFamily: FONT, fill: '#111', align: 'left', verticalAlign: 'middle', textAlign: 'left', textVerticalAlign: 'middle' } });
  });

  HEADER_NAMES.forEach((t, k) => {
    opt.graphic.push({ type: 'text', x: L.headers[k][0], y: L.headers[k][1], rotation: Math.PI / 4, z: 10, silent: true,
      style: { text: t, fontSize: 20, fontFamily: FONT, fill: '#111', align: 'left', verticalAlign: 'bottom', textAlign: 'left', textVerticalAlign: 'bottom' } });
  });
}

function downstreamArrow(x: number, top: number, gapTop: number, gapBottom: number, textY: number, headBase: number, tip: number) {
  const gray = '#8c8c8c';
  return [
    { type: 'line', z: 10, silent: true, shape: { x1: x, y1: top, x2: x, y2: gapTop }, style: { stroke: gray, lineWidth: 4 } },
    { type: 'line', z: 10, silent: true, shape: { x1: x, y1: gapBottom, x2: x, y2: headBase + 2 }, style: { stroke: gray, lineWidth: 4 } },
    { type: 'polygon', z: 10, silent: true, shape: { points: [[x, tip], [x - 13, headBase], [x + 13, headBase]] }, style: { fill: gray } },
    { type: 'text', x, y: textY, rotation: Math.PI / 2, z: 10, silent: true,
      style: { text: 'Downstream', fontSize: 26, fontFamily: FONT, fill: gray, align: 'center', verticalAlign: 'middle', textAlign: 'center', textVerticalAlign: 'middle' } },
  ];
}

export default function App() {
  const ref = useRef<HTMLDivElement>(null);
  useEffect(() => {
    if (!ref.current) return;
    const chart = echarts.init(ref.current, null, { renderer: 'svg' });
    const opt: any = { animation: false, textStyle: { fontFamily: FONT }, grid: [], xAxis: [], yAxis: [], series: [], graphic: [] };
    buildColumn(LEFT_PANELS, LEFT_LAYOUT, opt);
    buildColumn(RIGHT_PANELS, RIGHT_LAYOUT, opt);
    // relative probability arrow
    opt.graphic.push(
      { type: 'line', z: 10, silent: true, shape: { x1: 48, y1: 993, x2: 48, y2: 686 }, style: { stroke: '#111', lineWidth: 5 } },
      { type: 'polygon', z: 10, silent: true, shape: { points: [[48, 647], [32, 690], [64, 690]] }, style: { fill: '#111' } },
      { type: 'text', x: 23, y: 826, rotation: Math.PI / 2, z: 10, silent: true,
        style: { text: 'Relative probability', fontSize: 26, fontFamily: FONT, fill: '#111', align: 'center', verticalAlign: 'middle', textAlign: 'center', textVerticalAlign: 'middle' } },
    );
    opt.graphic.push(...downstreamArrow(617, 98, 688, 847, 767, 1480, 1530));
    opt.graphic.push(...downstreamArrow(1198, 98, 674, 836, 754, 1390, 1442));
    chart.setOption(opt);
    return () => chart.dispose();
  }, []);
  return <div ref={ref} style={{ position: 'absolute', left: 0, top: 0, width: 1213, height: 1617, background: '#fff' }} />;
}
